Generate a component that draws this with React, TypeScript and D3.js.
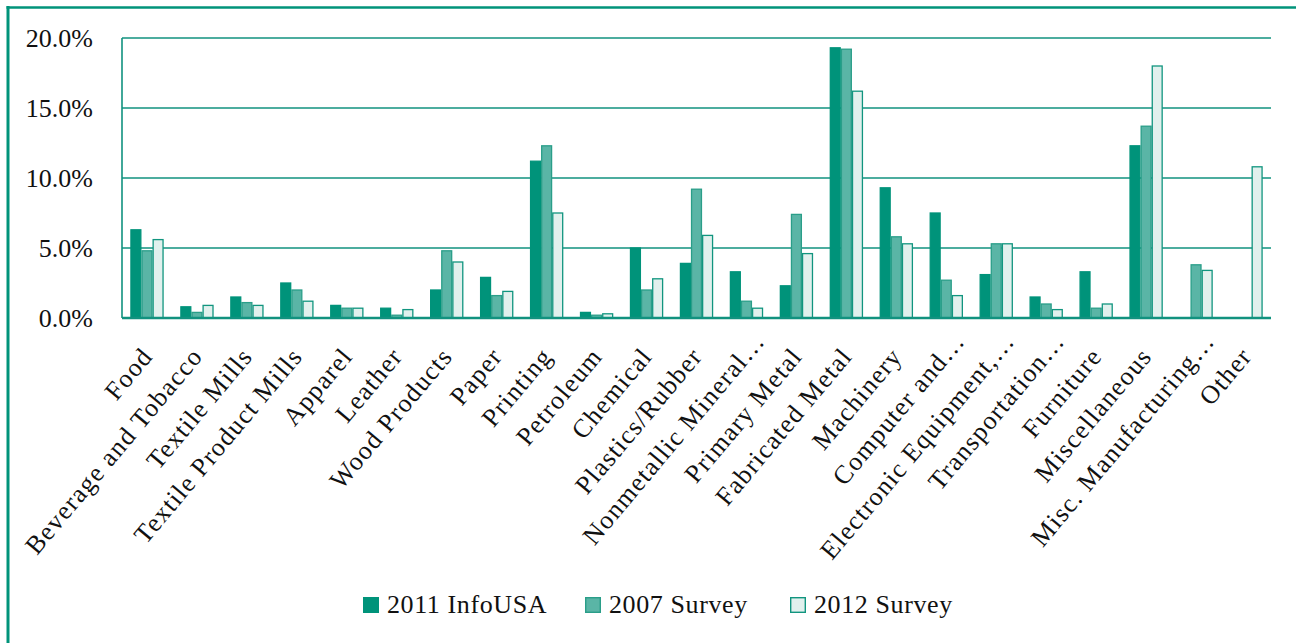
import React from "react";
import * as d3 from "d3";

const categories = [
  "Food", "Beverage and Tobacco", "Textile Mills", "Textile Product Mills", "Apparel",
  "Leather", "Wood Products", "Paper", "Printing", "Petroleum", "Chemical",
  "Plastics/Rubber", "Nonmetallic Mineral\u2026", "Primary Metal", "Fabricated Metal",
  "Machinery", "Computer and\u2026", "Electronic Equipment,\u2026", "Transportation\u2026",
  "Furniture", "Miscellaneous", "Misc. Manufacturing\u2026", "Other",
];
const infoUSA2011: (number | null)[] = [6.3, 0.8, 1.5, 2.5, 0.9, 0.7, 2.0, 2.9, 11.2, 0.4, 5.0, 3.9, 3.3, 2.3, 19.3, 9.3, 7.5, 3.1, 1.5, 3.3, 12.3, null, null];
const survey2007: (number | null)[] = [4.8, 0.4, 1.1, 2.0, 0.7, 0.2, 4.8, 1.6, 12.3, 0.2, 2.0, 9.2, 1.2, 7.4, 19.2, 5.8, 2.7, 5.3, 1.0, 0.7, 13.7, 3.8, null];
const survey2012: (number | null)[] = [5.6, 0.9, 0.9, 1.2, 0.7, 0.6, 4.0, 1.9, 7.5, 0.3, 2.8, 5.9, 0.7, 4.6, 16.2, 5.3, 1.6, 5.3, 0.6, 1.0, 18.0, 3.4, 10.8];
const seriesNames = ["2011 InfoUSA", "2007 Survey", "2012 Survey"];
const yTicks = [0, 5, 10, 15, 20];

const series = [infoUSA2011, survey2007, survey2012];
const fills = ["#00937a", "#5ab5a6", "#e1f0ed"];
const strokes = ["#00937a", "#2a9e89", "#11957f"];
const teal = "#11927f";
const FONT = "'Liberation Serif', 'Times New Roman', serif";

export default function App() {
  const W = 1296, H = 643;
  const left = 122, right = 1271, top = 38, bottom = 318;
  const x = d3.scaleBand<string>().domain(categories).range([left, right]).paddingInner(0.333).paddingOuter(0.1667);
  const xs = d3.scaleBand<string>().domain(seriesNames).range([0, x.bandwidth()]);
  const y = d3.scaleLinear().domain([0, 20]).range([bottom, top]);
  const fmt = (v: number) => v.toFixed(1) + "%";
  const legendX = [363, 585, 790];
  const ang = 50;
  const rad = (ang * Math.PI) / 180;

  return (
    <svg width={W} height={H} style={{ position: "absolute", left: 0, top: 0, background: "#fff" }} fontFamily={FONT}>
      {/* frame */}
      <line x1={8} x2={8} y1={6} y2={H} stroke="#00937a" strokeWidth={3} />
      <line x1={6.5} x2={W} y1={7.5} y2={7.5} stroke="#00937a" strokeWidth={2.5} />
      {/* gridlines */}
      {yTicks.filter((t) => t > 0).map((t) => (
        <line key={t} x1={left} x2={right} y1={y(t)} y2={y(t)} stroke={teal} strokeWidth={1.6} />
      ))}
      {/* y labels */}
      {yTicks.map((t) => (
        <text key={t} x={93} y={y(t)} dy="0.33em" textAnchor="end" fontSize={26} fill="#111">{fmt(t)}</text>
      ))}
      {/* bars */}
      {categories.map((c, i) => (
        <g key={c} transform={`translate(${x(c)},0)`}>
          {series.map((s, j) => {
            const v = s[i];
            if (v == null) return null;
            return (
              <rect key={j} x={xs(seriesNames[j])! + 0.6} y={y(v)} width={xs.bandwidth() - 1.2} height={y(0) - y(v)}
                fill={fills[j]} stroke={strokes[j]} strokeWidth={1.3} />
            );
          })}
        </g>
      ))}
      {/* axes */}
      <line x1={left} x2={left} y1={top} y2={bottom} stroke={teal} strokeWidth={1.6} />
      <line x1={left} x2={right} y1={bottom} y2={bottom} stroke={teal} strokeWidth={2.4} />
      {/* x labels */}
      {categories.map((c) => {
        const ext = c.endsWith("\u2026") ? 20 : 0;
        const cx = x(c)! + x.bandwidth() / 2 + 7 + ext * Math.cos(rad);
        const cy = 357 - ext * Math.sin(rad);
        return (
          <text key={c} x={cx} y={cy} textAnchor="end" fontSize={26} fill="#111" letterSpacing={1.2}
            transform={`rotate(${-ang} ${cx} ${cy})`}>{c}</text>
        );
      })}
      {/* legend */}
      {seriesNames.map((n, j) => (
        <g key={n} transform={`translate(${legendX[j]},597)`}>
          <rect x={0.7} y={0.7} width={14.6} height={14.6} fill={fills[j]} stroke={strokes[j]} strokeWidth={1.4} />
          <text x={24} y={16} fontSize={26} fill="#111" letterSpacing={0.6}>{n}</text>
        </g>
      ))}
    </svg>
  );
}
